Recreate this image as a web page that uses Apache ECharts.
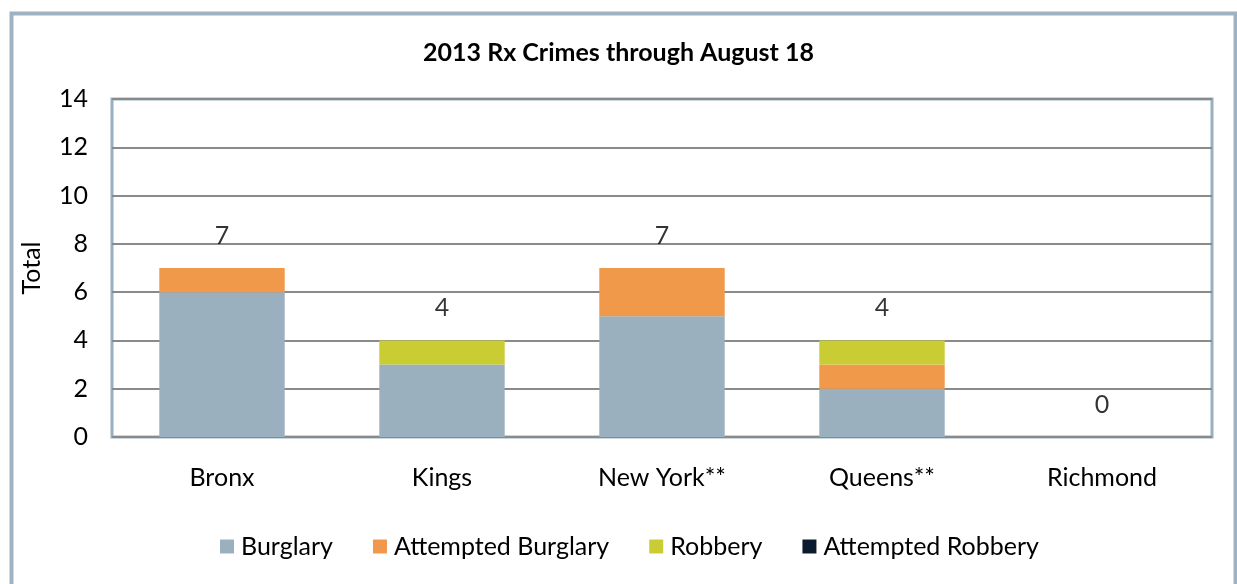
<!DOCTYPE html>
<html>
<head>
<meta charset="utf-8">
<script src="https://cdn.jsdelivr.net/npm/echarts@6/dist/echarts.min.js"></script>
<style>
  html, body { margin: 0; padding: 0; background: #ffffff; }
  #chart { width: 1237px; height: 584px; }
</style>
</head>
<body>
<div id="chart"></div>
<script>
const boroughs = ['Bronx', 'Kings', 'New York**', 'Queens**', 'Richmond'];
const burglary = [6, 3, 5, 2, 0];
const attemptedBurglary = [1, 0, 2, 1, 0];
const robbery = [0, 1, 0, 1, 0];
const attemptedRobbery = [0, 0, 0, 0, 0];
const yTicks = [0, 2, 4, 6, 8, 10, 12, 14];

const totals = boroughs.map((_, i) =>
  burglary[i] + attemptedBurglary[i] + robbery[i] + attemptedRobbery[i]);

const FONT = 'Lato, "Open Sans", sans-serif';
const chart = echarts.init(document.getElementById('chart'), null, { renderer: 'canvas' });

function bar(name, data, color) {
  return {
    name, type: 'bar', stack: 'total', data,
    barCategoryGap: '43%',
    itemStyle: { color },
    emphasis: { disabled: true }
  };
}

chart.setOption({
  animation: false,
  backgroundColor: '#ffffff',
  title: {
    text: '2013 Rx Crimes through August 18',
    left: 'center', top: 35,
    textStyle: { fontFamily: FONT, fontSize: 25, fontWeight: 'bold', color: '#000' }
  },
  legend: {
    data: ['Burglary', 'Attempted Burglary', 'Robbery', 'Attempted Robbery'],
    bottom: 20, left: 215,
    icon: 'rect', itemWidth: 14, itemHeight: 14, itemGap: 40,
    textStyle: { fontFamily: FONT, fontSize: 25, color: '#000', padding: [0, 0, 0, 2] }
  },
  grid: {
    left: 112, right: 25, top: 99, bottom: 147,
    show: true, borderColor: '#98AFC0', borderWidth: 3, backgroundColor: 'transparent'
  },
  xAxis: {
    type: 'category', data: boroughs,
    axisLine: { show: false }, axisTick: { show: false },
    axisLabel: { fontFamily: FONT, fontSize: 25, color: '#000', margin: 28 }
  },
  yAxis: {
    type: 'value', min: yTicks[0], max: yTicks[yTicks.length - 1], interval: 2,
    name: 'Total', nameLocation: 'middle', nameGap: 68, nameRotate: 90,
    nameTextStyle: { fontFamily: FONT, fontSize: 25, color: '#000' },
    axisLine: { show: false }, axisTick: { show: false },
    axisLabel: { fontFamily: FONT, fontSize: 25, color: '#000', margin: 24 },
    splitLine: { lineStyle: { color: '#8A8A8A', width: 2 } }
  },
  graphic: [{
    type: 'rect', left: 9, top: 11, silent: true,
    shape: { width: 1224, height: 600 },
    style: { fill: 'none', stroke: '#9DB3C3', lineWidth: 4 }
  }],
  series: [
    bar('Burglary', burglary, '#9BB0BF'),
    bar('Attempted Burglary', attemptedBurglary, '#F0994A'),
    bar('Robbery', robbery, '#C9CD33'),
    bar('Attempted Robbery', attemptedRobbery, '#0C1A30'),
    {
      name: 'Totals', type: 'scatter', data: totals,
      symbolSize: 0, silent: true,
      label: {
        show: true, position: 'top', distance: 20,
        fontFamily: FONT, fontSize: 25, color: '#000'
      }
    }
  ]
});
</script>
</body>
</html>
